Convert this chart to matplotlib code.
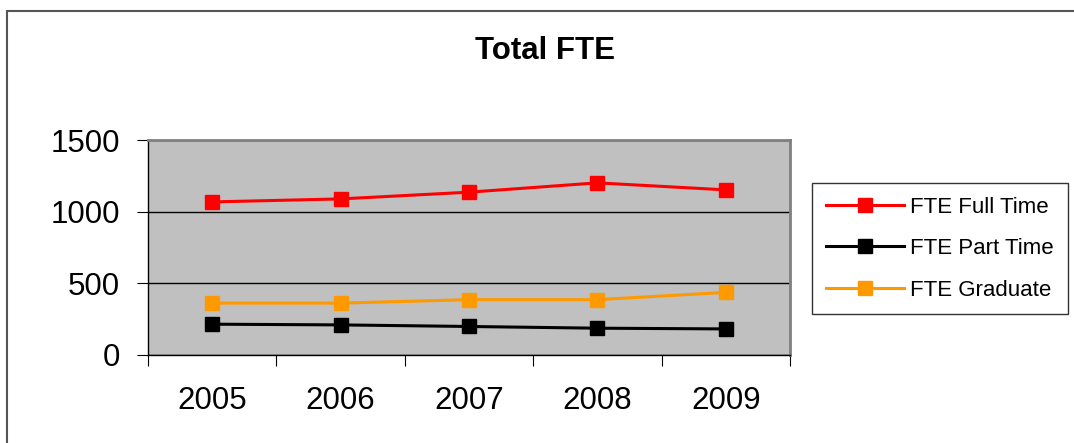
import matplotlib
matplotlib.use("Agg")
import matplotlib.pyplot as plt
from matplotlib.patches import Rectangle

plt.rcParams['font.family'] = ['Liberation Sans', 'DejaVu Sans']

years = ["2005", "2006", "2007", "2008", "2009"]
full_time = [1068, 1089, 1136, 1201, 1152]
part_time = [215, 210, 199, 187, 182]
graduate = [362, 362, 386, 386, 437]

series = [
    ("FTE Full Time", full_time, "#FF0000"),
    ("FTE Part Time", part_time, "#000000"),
    ("FTE Graduate", graduate, "#FF9900"),
]

fig = plt.figure(figsize=(10.74, 4.43), dpi=100)
fig.patches.append(Rectangle((7.5 / 1074, -0.05), 1.1, 1.05 - 11.5 / 443,
                             transform=fig.transFigure, fill=False,
                             edgecolor="#555555", linewidth=1.5))

ax = fig.add_axes([148 / 1074, 1 - 355 / 443, (790 - 148) / 1074, (355 - 140) / 443])
ax.set_facecolor("#C0C0C0")

x = list(range(len(years)))
for label, vals, col in series:
    ax.plot(x, vals, color=col, linewidth=2.2, marker="s", markersize=10,
            markeredgecolor=col, label=label)

ax.set_ylim(0, 1500)
ax.set_yticks([0, 500, 1000, 1500])
ax.yaxis.grid(True, color="black", linewidth=1)
ax.set_axisbelow(True)
ax.tick_params(axis="y", labelsize=22.5, length=8, direction="out", pad=12)

ax.set_xlim(-0.5, len(years) - 0.5)
ax.set_xticks([i - 0.5 for i in range(len(years) + 1)])
ax.set_xticklabels([])
ax.set_xticks(x, minor=True)
ax.set_xticklabels(years, minor=True)
ax.tick_params(axis="x", which="major", length=8, direction="out")
ax.tick_params(axis="x", which="minor", length=0, labelsize=22.5, pad=22)

for side in ["top", "right"]:
    ax.spines[side].set_color("#808080")
    ax.spines[side].set_linewidth(2)
for side in ["left", "bottom"]:
    ax.spines[side].set_color("black")
    ax.spines[side].set_linewidth(1)

fig.text(545 / 1074, 1 - 51 / 443, "Total FTE", ha="center", va="center",
         fontsize=22.5, fontweight="bold")

leg = ax.legend(loc="upper left", bbox_to_anchor=(812 / 1074, 1 - 183 / 443),
                bbox_transform=fig.transFigure, borderaxespad=0, fontsize=16,
                frameon=True, fancybox=False, edgecolor="black", borderpad=0.62,
                labelspacing=0.92, handlelength=3.5, handletextpad=0.3)
leg.get_frame().set_linewidth(1)

fig.savefig("out.png", dpi=100)
